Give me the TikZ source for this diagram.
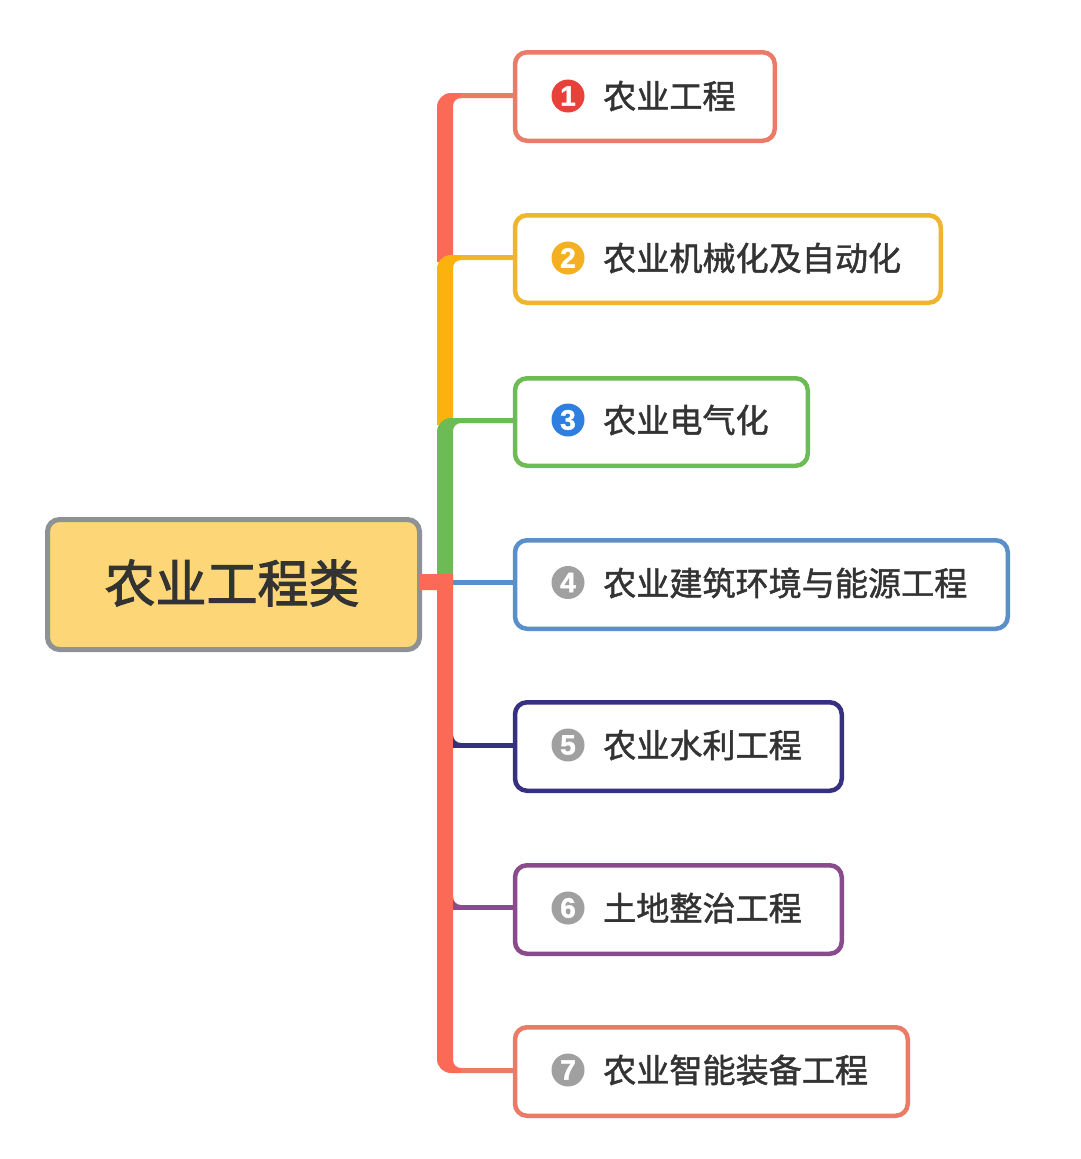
\documentclass[tikz,border=0pt]{standalone}
\usepackage{fontspec}
\setmainfont{Liberation Sans}
\newfontfamily\cjk[FakeBold=1.4]{Noto Sans CJK SC}
\newfontfamily\cjkroot[FakeBold=2]{Noto Sans CJK SC}
\newfontfamily\numfont[FakeBold=1.4]{Liberation Sans Bold}
\definecolor{cRed}{HTML}{E97B68}
\definecolor{cBar}{HTML}{FB6A56}
\definecolor{cYel}{HTML}{EFB52F}
\definecolor{cBarY}{HTML}{FBB20F}
\definecolor{cGrn}{HTML}{6DBB55}
\definecolor{cBlu}{HTML}{5B8FCB}
\definecolor{cNav}{HTML}{35307F}
\definecolor{cPur}{HTML}{8A4B8C}
\definecolor{cRoot}{HTML}{FDD677}
\definecolor{cRootB}{HTML}{8E9196}
\definecolor{cTxt}{HTML}{333333}
\definecolor{nRed}{HTML}{E8413A}
\definecolor{nYel}{HTML}{F5B021}
\definecolor{nBlu}{HTML}{2F7FE0}
\definecolor{nGry}{HTML}{A0A0A0}
\tikzset{
  itembox/.style={draw=#1,line width=4.5pt,rounded corners=12pt,fill=white,inner sep=0pt,outer sep=0pt,anchor=north west},
  rootbox/.style={draw=cRootB,fill=cRoot,line width=5pt,rounded corners=12pt,inner sep=0pt,outer sep=0pt,anchor=north west,
     minimum width=372pt,minimum height=130pt},
  itemtext/.style={anchor=west,inner sep=0pt,text=cTxt,font=\cjk\fontsize{33.1}{33}\selectfont},
  roottext/.style={inner sep=0pt,text=cTxt,font=\cjkroot\fontsize{51}{51}\selectfont},
  badge/.style={circle,fill=#1,minimum size=33pt,inner sep=0pt,text=white,font=\numfont\fontsize{28}{28}\selectfont},
  stub/.style={draw=#1,line width=5pt}
}
\begin{document}
\begin{tikzpicture}[x=1pt,y=-1pt]
\useasboundingbox (0,0) rectangle (1080,1159);
\fill[white] (0,0) rectangle (1080,1159);
% boxes
\node[rootbox] (root) at (47.5,519.5) {};
\node[roottext] (roott) at (232,583) {农业工程类};
\node[itembox=cRed,minimum width=259.75pt,minimum height=88.5pt] (b1) at (515,52.25) {};
\node[itembox=cYel,minimum width=425.75pt,minimum height=87.5pt] (b2) at (515,215.25) {};
\node[itembox=cGrn,minimum width=292.75pt,minimum height=87.5pt] (b3) at (515,378.25) {};
\node[itembox=cBlu,minimum width=492.75pt,minimum height=88.5pt] (b4) at (515,540.25) {};
\node[itembox=cNav,minimum width=326.75pt,minimum height=88.5pt] (b5) at (515,702.25) {};
\node[itembox=cPur,minimum width=326.75pt,minimum height=88.5pt] (b6) at (515,865.25) {};
\node[itembox=cRed,minimum width=392.75pt,minimum height=88.5pt] (b7) at (515,1027.25) {};
% tapered branches
\fill[cBar] (437,262) -- (437,107) arc[start angle=180,end angle=270,radius=14] -- (b1.west |- 0,93) -- (b1.west |- 0,98) -- (461,98) arc[start angle=270,end angle=180,radius=8] -- (453,262) -- cycle;
\fill[cRed] (461,93) -- (b1.west |- 0,93) -- (b1.west |- 0,98) -- (461,98) -- cycle;
\fill[cBarY] (437,425) -- (437,269) arc[start angle=180,end angle=270,radius=14] -- (b2.west |- 0,255) -- (b2.west |- 0,260) -- (461,260) arc[start angle=270,end angle=180,radius=8] -- (453,425) -- cycle;
\fill[cYel] (461,255) -- (b2.west |- 0,255) -- (b2.west |- 0,260) -- (461,260) -- cycle;
\fill[cGrn] (437,576) -- (437,432) arc[start angle=180,end angle=270,radius=14] -- (b3.west |- 0,418) -- (b3.west |- 0,423) -- (461,423) arc[start angle=270,end angle=180,radius=8] -- (453,576) -- cycle;
% trunk from root
\fill[cBar] (root.east |- 0,574) -- (453,574) -- (453,1060) arc[start angle=180,end angle=90,radius=8] -- (b7.west |- 0,1068) -- (b7.west |- 0,1073) -- (451,1073) arc[start angle=90,end angle=180,radius=14] -- (437,590) -- (root.east |- 0,590) -- cycle;
\fill[cRed] (461,1068) -- (b7.west |- 0,1068) -- (b7.west |- 0,1073) -- (461,1073) -- cycle;
% thin stubs
\coordinate (t4) at (453,582.5);
\draw[stub=cBlu] (t4) -- (t4 -| b4.west);
\coordinate (t5) at (453,745);
\draw[stub=cNav] (t5) -- (t5 -| b5.west);
\fill[cNav] (453,735) arc[start angle=180,end angle=90,radius=8] -- (453,743) -- cycle;
\coordinate (t6) at (453,907);
\draw[stub=cPur] (t6) -- (t6 -| b6.west);
\fill[cPur] (453,897) arc[start angle=180,end angle=90,radius=8] -- (453,905) -- cycle;
% badges
\node[badge=nRed] (n1) at (568,96) {1};
\node[badge=nYel] (n2) at (568,258) {2};
\node[badge=nBlu] (n3) at (568,420) {3};
\node[badge=nGry] (n4) at (568,582.5) {4};
\node[badge=nGry] (n5) at (568,745) {5};
\node[badge=nGry] (n6) at (568,908) {6};
\node[badge=nGry] (n7) at (568,1070) {7};
% labels
\node[itemtext] (l1) at (603,96) {农业工程};
\node[itemtext] (l2) at (603,258) {农业机械化及自动化};
\node[itemtext] (l3) at (603,420) {农业电气化};
\node[itemtext] (l4) at (603,583) {农业建筑环境与能源工程};
\node[itemtext] (l5) at (603,745) {农业水利工程};
\node[itemtext] (l6) at (603,908) {土地整治工程};
\node[itemtext] (l7) at (603,1070) {农业智能装备工程};
\end{tikzpicture}
\end{document}
